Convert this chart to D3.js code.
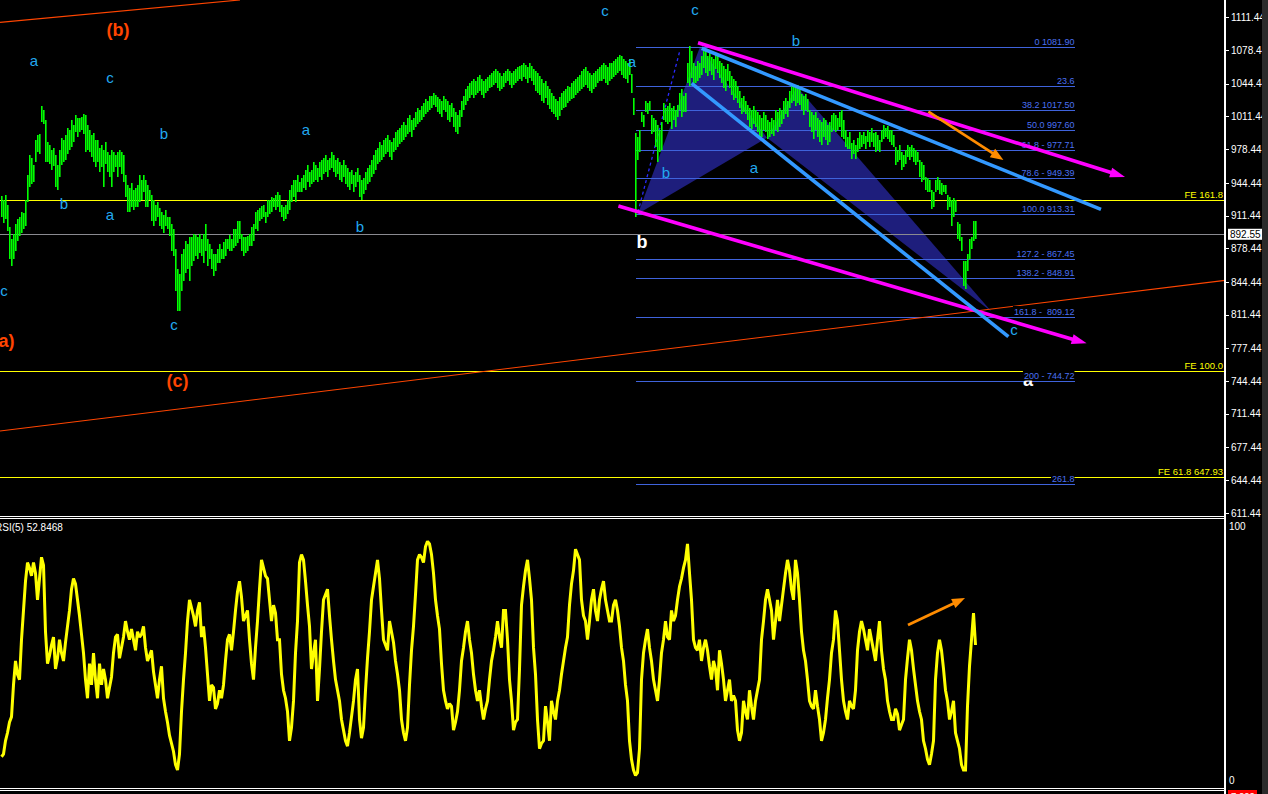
<!DOCTYPE html>
<html><head><meta charset="utf-8">
<script src="https://cdn.jsdelivr.net/npm/d3@7"></script>
<style>html,body{margin:0;padding:0;background:#000;overflow:hidden}svg{display:block}</style>
</head><body>
<svg id="chart" width="1268" height="794"></svg>
<script>
// ---------------- DATA ----------------
const highs = [
931,927,932,922,899,887,892,902,907,909, 915,914,927,952,972,969,962,987,992,993,
1022,1017,1007,985,982,977,979,972,962,977, 989,987,992,999,997,1007,1002,1012,1009,1009,
1010,1013,1012,1002,997,992,994,987,987,979, 982,977,985,975,972,977,975,972,975,977,
975,972,952,942,939,944,937,939,942,952, 947,952,947,942,937,932,927,922,925,919,
915,912,917,909,909,902,897,877,857,852, 872,877,885,882,889,889,892,891,889,892,
887,892,902,887,882,877,872,872,877,882, 877,884,887,887,891,887,897,897,905,905,
892,889,889,890,892,899,902,915,917,919, 921,922,915,927,927,930,929,932,935,932,
922,920,922,927,937,942,947,947,952,945, 949,952,957,962,955,957,965,962,959,965,
967,969,972,967,969,975,972,967,969,965, 962,967,962,959,955,957,952,955,959,952,
947,949,955,959,962,967,972,977,979,985, 982,987,989,992,987,985,989,995,997,999,
1002,1005,1002,1009,1012,1007,1009,1015,1019,1017, 1022,1025,1029,1027,1032,1032,1035,1033,1031,1029,
1027,1032,1029,1027,1023,1025,1019,1015,1012,1017, 1027,1032,1039,1042,1045,1047,1049,1047,1051,1053,
1049,1047,1049,1051,1053,1055,1057,1059,1057,1055, 1052,1055,1057,1059,1057,1055,1057,1059,1061,1062,
1063,1065,1063,1061,1065,1062,1059,1057,1055,1052, 1049,1045,1047,1042,1039,1035,1032,1029,1027,1031,
1035,1037,1039,1042,1041,1045,1047,1049,1051,1053, 1057,1059,1061,1057,1055,1053,1055,1057,1059,1061,
1063,1065,1063,1061,1065,1065,1067,1069,1071,1073, 1072,1069,1067,1065,1069,1054,1030,994,990,997,
1015,1012,1027,1025,1027,1012,1009,1007,1002,997, 1005,1025,1019,1022,1025,1019,1022,1017,1023,1035,
1039,1032,1035,1065,1082,1077,1065,1062,1067,1065, 1072,1080,1077,1072,1075,1071,1069,1075,1072,1067,
1065,1062,1059,1064,1057,1052,1049,1047,1042,1037, 1030,1032,1027,1023,1019,1017,1022,1017,1015,1012,
1009,1015,1012,1007,1005,1009,1007,1017,1015,1019, 1017,1027,1030,1027,1037,1042,1044,1041,1043,1039,
1034,1032,1034,1029,1017,1015,1012,1015,1009,1007, 1005,1009,1007,1002,1005,1012,1014,1012,1009,1015,
1017,1007,997,990,995,984,987,982,989,995, 992,995,991,997,995,999,994,995,992,987,
997,1002,999,1001,997,997,992,980,977,982, 975,972,977,982,980,982,979,977,975,967,
965,962,950,949,947,937,935,947,950,947, 944,942,942,932,930,927,929,927,904,902,
889,865,865,872,887,889,905,905];
const lows = [
912,905,909,897,869,862,869,877,887,892, 895,899,902,927,942,945,947,967,977,975,
1007,1005,967,967,965,959,963,942,939,952, 964,967,969,975,979,982,987,997,992,997,
999,995,977,979,977,972,967,962,967,957, 962,942,965,957,952,942,957,962,952,962,
955,947,932,917,917,922,919,922,922,927, 929,937,922,922,929,907,902,907,912,902,
899,895,902,899,892,877,872,837,817,817, 837,847,855,859,847,862,867,872,869,875,
872,865,877,862,869,859,852,857,865,865, 869,869,872,879,877,877,880,882,885,889,
877,872,875,877,882,882,887,899,897,907, 909,912,905,912,915,917,922,919,922,917,
912,907,909,915,919,927,932,927,937,937, 937,941,939,947,942,945,947,949,947,952,
949,955,957,952,959,961,957,952,955,949, 947,952,945,942,939,945,937,942,947,932,
929,935,939,945,947,952,955,959,965,967, 969,972,975,977,972,969,977,979,982,985,
987,989,992,995,997,992,999,1002,1005,1007, 1009,1012,1015,1017,1019,1022,1025,1023,1017,1015,
1012,1019,1017,1009,1007,1012,1002,997,995,1002, 1012,1019,1025,1029,1032,1035,1032,1035,1037,1039,
1035,1032,1037,1039,1042,1043,1045,1047,1042,1039, 1041,1043,1047,1049,1045,1042,1045,1047,1049,1051,
1049,1053,1051,1047,1052,1049,1045,1039,1037,1035, 1029,1027,1032,1025,1021,1017,1015,1012,1009,1013,
1019,1022,1023,1027,1029,1031,1032,1035,1037,1039, 1041,1043,1045,1042,1039,1037,1041,1043,1047,1049,
1049,1051,1047,1045,1049,1051,1053,1055,1057,1059, 1055,1052,1051,1047,1055,1037,1014,912,969,977,
1007,1002,1017,1015,1019,995,997,982,967,977, 979,1009,1007,1005,1007,1000,1009,1002,1012,1019,
1012,1017,1017,1047,1044,1052,1044,1047,1049,1052, 1055,1062,1057,1054,1059,1055,1050,1061,1057,1052,
1047,1042,1039,1049,1042,1035,1030,1032,1027,1022, 1015,1017,1015,1009,1002,1000,1005,1002,997,990,
992,999,997,990,992,995,993,999,997,1002, 1005,1010,1015,1012,1022,1027,1029,1024,1027,1025,
1019,1014,1019,1017,1002,997,990,999,992,987, 984,992,989,984,987,997,999,997,999,1002,
992,990,982,980,980,970,975,970,977,980, 982,985,980,987,982,987,982,977,979,977,
987,990,992,990,987,984,982,964,967,969, 959,962,965,972,969,972,967,964,967,952,
947,949,939,937,937,920,922,937,939,935, 934,937,935,919,922,902,912,917,889,887,
877,842,839,857,869,879,887,889];
const rsi = [
11,12,17,20,24,26,38,47,42,40, 55,66,77,84,82,79,84,80,70,78,
86,83,58,46,49,53,56,44,48,55, 50,47,54,60,66,74,78,76,70,64,
57,50,40,33,46,38,50,40,33,46, 38,44,40,33,37,41,50,56,57,48,
52,56,62,58,55,59,55,51,58,56, 57,60,52,47,49,51,43,38,33,40,
45,33,28,24,19,16,13,8,6,12, 28,40,50,62,70,67,64,60,66,69,
56,60,52,42,32,38,37,29,31,36, 33,38,47,55,57,51,58,66,73,77,
71,62,64,66,55,46,40,52,62,74, 85,82,79,78,70,62,68,65,55,55,
42,36,33,28,17,22,32,50,62,84, 87,85,77,68,60,44,50,55,32,44,
58,70,72,74,64,55,47,40,36,32, 25,21,17,15,20,26,32,40,44,25,
18,22,36,48,58,70,75,80,85,78, 66,55,53,51,62,58,54,47,42,36,
25,20,17,22,38,51,60,72,85,87, 86,84,90,92,91,87,80,70,64,59,
46,36,32,29,31,30,21,24,28,36, 47,52,58,62,55,50,42,36,32,36,
30,25,29,32,40,47,51,56,62,56, 52,66,66,55,40,32,21,24,25,44,
68,75,81,85,78,70,52,42,25,14, 16,17,30,24,17,32,28,25,32,36,
42,47,52,56,68,76,81,89,87,85, 70,64,62,55,62,70,74,66,62,70,
74,77,70,66,62,62,68,70,66,60, 52,47,38,32,17,10,6,4,5,14,
40,50,55,59,52,47,40,36,32,40, 50,55,62,56,55,66,62,64,70,75,
78,82,85,91,80,70,55,52,51,55, 47,52,55,51,45,40,47,44,36,51,
46,40,32,36,40,32,34,32,21,17, 20,32,28,25,36,30,25,32,36,40,
55,62,70,74,70,66,55,62,70,62, 68,74,80,85,81,74,70,85,80,70,
58,51,47,40,32,30,29,36,30,25, 17,20,25,33,40,50,55,66,62,51,
40,32,28,25,32,30,29,36,51,58, 62,59,55,51,59,55,51,47,55,62,
51,44,40,32,28,25,25,29,27,21, 23,25,40,48,55,51,44,38,32,28,
25,17,14,10,8,12,17,40,50,55, 51,44,36,32,25,28,32,20,17,14,
8,6,6,30,45,55,65,53];
const rsiLast = 52.8468;
const lastPrice = 892.55;

const priceTicks = [1111.44,1078.44,1044.44,1011.44,978.44,944.44,911.44,878.44,844.44,811.44,777.44,744.44,711.44,677.44,644.44,611.44];
const rsiTicks = [100, 0];

const fibPrices = [1081.90,1042.11,1017.50,997.60,977.71,949.39,913.31,867.45,848.91,809.12,744.72,640.53];
const fibLabels = ["0 1081.90","23.6","38.2 1017.50","50.0 997.60","61.8 - 977.71","78.6 - 949.39","100.0 913.31","127.2 - 867.45","138.2 - 848.91","161.8 -  809.12","200 - 744.72","261.8"];
const fibRange = [317.5, 537];

const fePrices = [927.1, 754.5, 647.93];
const feLabels = ["FE 161.8","FE 100.0","FE 61.8 647.93"];

const patternTri1 = [[318.5,913.3],[349.5,1081.9],[383,990]];
const patternTri2 = [[383,990],[398,1041.2],[495.3,814.4]];
const dashedXA = [[318.5,915],[339.5,1078.5]];
const trendLines = [[[-0.5,694.0],[612,846.1]], [[-0.5,1106.5],[119.5,1129.0]]];
const magentaArrows = [[[348.5,1085.9],[562,950.4]], [[308.7,921.1],[542.8,782.5]]];
const blueLines = [[[350.3,1080.3],[550,917.7]], [[345.3,1044.9],[503.7,789.2]]];
const orangeArrowMain = [[463.7,1016.3],[501.2,967.5]];
const orangeArrowRsi = [[453.5,60.5],[482,70.7]];

const waveText  = ["a","c","b","a","b","a","b","c","c","c","c","a","b","a","b","c"];
const waveIdx   = [16.5,54.5,81.5,152.5,31.5,54.5,179.5,1.5,86.5,302,347,315.5,332.5,376.5,397.5,506.5];
const wavePrice = [1068.4,1050.3,993.8,998.8,924.1,913.0,900.9,835.3,801.0,1117.9,1119.9,1067.4,955.4,960.4,1088.6,796.9];
const majorText  = ["(b)","(c)","(a)"];
const majorIdx   = [58.5,88.25,1.25];
const majorPrice = [1098.7,744.5,784.8];
const whiteText  = ["b","a"];
const whiteIdx   = [320.5,513.5];
const whitePrice = [884.7,745.5];

// ---------------- DRAWING ----------------
const W = 1268, H = 794, AX = 1225;
const svg = d3.select("#chart");
svg.append("rect").attr("width", W).attr("height", H).attr("fill", "#000");

const x = d3.scaleLinear().domain([0, 487]).range([1, 975]);
const y = d3.scaleLinear().domain([611.44, 1111.44]).range([512.8, 17.4]);
const yR = d3.scaleLinear().domain([0, 100]).range([786, 520]);

const defs = svg.append("defs");
defs.append("clipPath").attr("id","clipMain").append("rect").attr("x",0).attr("y",0).attr("width",AX).attr("height",516);
defs.append("clipPath").attr("id","clipRsi").append("rect").attr("x",0).attr("y",519).attr("width",AX).attr("height",269);

const FONT = "'Liberation Sans', Arial, sans-serif";
const main = svg.append("g").attr("clip-path","url(#clipMain)");

function arrow(g, p0, p1, ys, color, w, hl, hw) {
  const x0 = x(p0[0]), y0 = ys(p0[1]), x1 = x(p1[0]), y1 = ys(p1[1]);
  const dx = x1 - x0, dy = y1 - y0, L = Math.hypot(dx, dy);
  const ux = dx / L, uy = dy / L, nx = -uy, ny = ux;
  const bx = x1 - ux * hl, by = y1 - uy * hl;
  g.append("line").attr("x1", x0).attr("y1", y0).attr("x2", bx + ux*2).attr("y2", by + uy*2)
    .attr("stroke", color).attr("stroke-width", w);
  g.append("polygon").attr("points", [[x1,y1],[bx+nx*hw/2,by+ny*hw/2],[bx-nx*hw/2,by-ny*hw/2]].map(p=>p.join(",")).join(" "))
    .attr("fill", color);
}

[patternTri1, patternTri2].forEach(tri => {
  main.append("polygon").attr("points", tri.map(p => [x(p[0]), y(p[1])].join(",")).join(" "))
    .attr("fill", "#1e1e7c");
});

main.selectAll("line.fib").data(fibPrices).join("line").attr("class","fib")
  .attr("x1", x(fibRange[0])).attr("x2", x(fibRange[1]))
  .attr("y1", d => Math.round(y(d)) + 0.5).attr("y2", d => Math.round(y(d)) + 0.5)
  .attr("stroke", "#3f63dc").attr("stroke-width", 1);

main.selectAll("line.fe").data(fePrices).join("line").attr("class","fe")
  .attr("x1", 0).attr("x2", AX)
  .attr("y1", d => Math.round(y(d)) + 0.5).attr("y2", d => Math.round(y(d)) + 0.5)
  .attr("stroke", "#ffff00").attr("stroke-width", 1);

main.append("line").attr("x1",0).attr("x2",AX)
  .attr("y1", Math.round(y(lastPrice)) + 0.5).attr("y2", Math.round(y(lastPrice)) + 0.5)
  .attr("stroke", "#8a8a90").attr("stroke-width", 1);

trendLines.forEach(l => {
  main.append("line").attr("x1", x(l[0][0])).attr("y1", y(l[0][1])).attr("x2", x(l[1][0])).attr("y2", y(l[1][1]))
    .attr("stroke", "#ff4500").attr("stroke-width", 1.2);
});

main.append("line").attr("x1", x(dashedXA[0][0])).attr("y1", y(dashedXA[0][1]))
  .attr("x2", x(dashedXA[1][0])).attr("y2", y(dashedXA[1][1]))
  .attr("stroke", "#2a2aff").attr("stroke-width", 1.3).attr("stroke-dasharray", "3,3");

// price bars (high-low)
main.append("g")
  .selectAll("rect").data(highs).join("rect")
  .attr("x", (d,i) => x(i)).attr("width", 1.6)
  .attr("y", d => Math.floor(y(d)))
  .attr("height", (d,i) => Math.max(2, Math.ceil(y(lows[i])) - Math.floor(y(d)) + 1))
  .attr("fill", "#00ff00");

whiteText.forEach((t,i) => {
  main.append("text").attr("x", x(whiteIdx[i])).attr("y", y(whitePrice[i]))
    .attr("text-anchor","middle").attr("dominant-baseline","central")
    .attr("font-family", FONT).attr("font-weight","bold").attr("font-size", 18)
    .attr("fill", "#ffffff").text(t);
});

const fibG = main.append("g");
fibLabels.forEach((t,i) => {
  const yy = Math.round(y(fibPrices[i]));
  const txt = fibG.append("text").attr("x", x(fibRange[1]) - 0.5).attr("y", yy - 2.5)
    .attr("text-anchor","end").attr("font-family", FONT).attr("font-size", 9)
    .style("white-space","pre").attr("fill", "#4a70f2").text(t);
  const bb = txt.node().getBBox();
  fibG.insert("rect", () => txt.node()).attr("x", bb.x - 1).attr("y", yy - 11).attr("width", bb.width + 1).attr("height", 10.5)
    .attr("fill", "#000");
});

magentaArrows.forEach(a => arrow(main, a[0], a[1], y, "#ff00ff", 3.6, 15, 10));
blueLines.forEach(l => {
  main.append("line").attr("x1", x(l[0][0])).attr("y1", y(l[0][1])).attr("x2", x(l[1][0])).attr("y2", y(l[1][1]))
    .attr("stroke", "#3399ff").attr("stroke-width", 3.6);
});
arrow(main, orangeArrowMain[0], orangeArrowMain[1], y, "#ff8c00", 2.8, 13, 10);

feLabels.forEach((t,i) => {
  main.append("text").attr("x", AX - 2).attr("y", Math.round(y(fePrices[i])) - 2.5)
    .attr("text-anchor","end").attr("font-family", FONT).attr("font-size", 9.5)
    .attr("fill", "#ffff00").text(t);
});

waveText.forEach((t,i) => {
  main.append("text").attr("x", x(waveIdx[i])).attr("y", y(wavePrice[i]))
    .attr("text-anchor","middle").attr("dominant-baseline","central")
    .attr("font-family", FONT).attr("font-size", 15).attr("fill", "#22a8ee").text(t);
});
majorText.forEach((t,i) => {
  main.append("text").attr("x", x(majorIdx[i])).attr("y", y(majorPrice[i]))
    .attr("text-anchor","middle").attr("dominant-baseline","central")
    .attr("font-family", FONT).attr("font-weight","bold").attr("font-size", 18)
    .attr("fill", "#ff4500").text(t);
});

// ---------- RSI panel ----------
const rsiG = svg.append("g").attr("clip-path","url(#clipRsi)");
rsiG.append("path").datum(rsi)
  .attr("d", d3.line().x((d,i) => x(i) + 0.5).y(d => yR(d)))
  .attr("fill","none").attr("stroke","#ffff00").attr("stroke-width",3).attr("stroke-linejoin","miter").attr("stroke-miterlimit",2);
arrow(rsiG, orangeArrowRsi[0], orangeArrowRsi[1], yR, "#ff8c00", 2.8, 13, 10);
rsiG.append("text").attr("x", -5).attr("y", 531).attr("font-family", FONT).attr("font-size", 10)
  .attr("fill", "#ffffff").text("RSI(5) " + rsiLast.toFixed(4));

// ---------- frame ----------
const frame = svg.append("g").attr("shape-rendering","crispEdges");
[516.5, 518.5, 788.5, 790.5].forEach(yy => {
  frame.append("line").attr("x1",0).attr("x2",AX+1).attr("y1",yy).attr("y2",yy).attr("stroke","#fff").attr("stroke-width",1);
});
frame.append("rect").attr("x", AX - 1).attr("y", 0).attr("width", 2).attr("height", H).attr("fill", "#fff");

const axG = svg.append("g").attr("transform", `translate(${AX},0)`)
  .call(d3.axisRight(y).tickValues(priceTicks).tickFormat(d => d.toFixed(2)).tickSize(4).tickSizeOuter(0).tickPadding(2));
axG.select(".domain").remove();
axG.selectAll(".tick line").attr("stroke","#fff").attr("shape-rendering","crispEdges");
axG.selectAll(".tick text").attr("fill","#fff").attr("font-family", FONT).attr("font-size", 10);

const lpY = y(lastPrice);
svg.append("rect").attr("x", 1228).attr("y", lpY - 5.5).attr("width", 34).attr("height", 11).attr("fill", "#fff");
svg.append("text").attr("x", 1230).attr("y", lpY + 3.5).attr("font-family", FONT).attr("font-size", 10)
  .attr("fill", "#000").text(lastPrice.toFixed(2));

const rAx = svg.append("g").attr("transform", `translate(${AX},0)`)
  .call(d3.axisRight(yR).tickValues(rsiTicks).tickFormat(d3.format("d")).tickSize(0).tickPadding(4));
rAx.select(".domain").remove();
rAx.selectAll(".tick text").attr("fill","#fff").attr("font-family", FONT).attr("font-size", 10)
  .attr("dy", d => d === 100 ? "0.95em" : "-0.3em");

svg.append("rect").attr("x", 1228).attr("y", 790).attr("width", 29).attr("height", 6).attr("fill", "#ff0000");
svg.append("text").attr("x", 1231).attr("y", 799).attr("font-family", FONT).attr("font-size", 9.5).attr("fill", "#fff").text("7.000");

svg.append("rect").attr("x", 1262).attr("y", 0).attr("width", 6).attr("height", H).attr("fill", "#2b2b2b");
</script>
</body></html>
